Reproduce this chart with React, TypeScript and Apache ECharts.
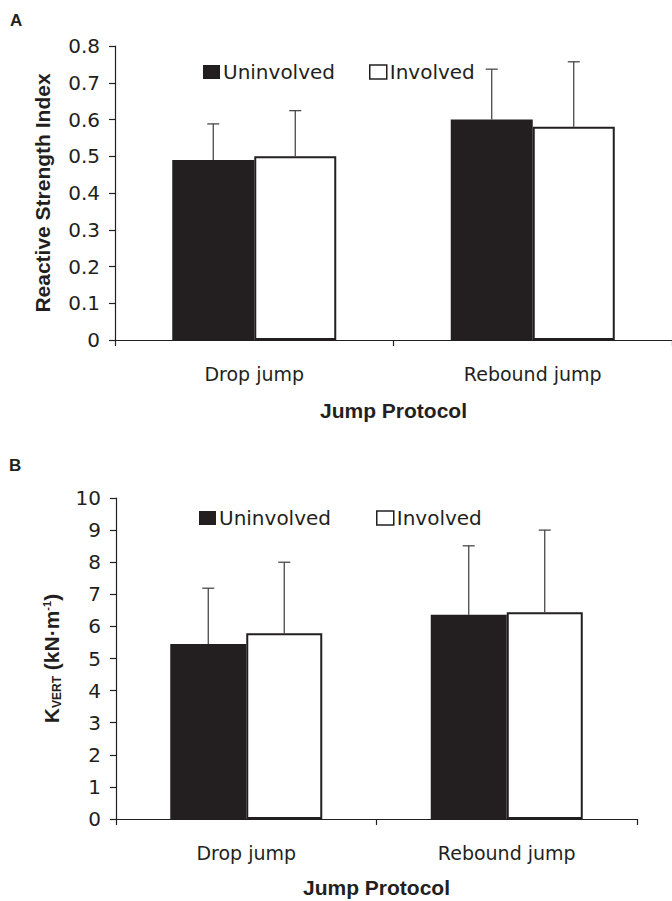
import React, { useEffect, useRef } from "react";
import * as echarts from "echarts";

// ---- Data ----
const categories = ["Drop jump", "Rebound jump"];
const seriesNames = ["Uninvolved", "Involved"];

// Panel A: Reactive Strength Index (mean, SD)
const rsiUninvolved = [0.49, 0.6];
const rsiInvolved = [0.5, 0.58];
const rsiUninvolvedSD = [0.098, 0.137];
const rsiInvolvedSD = [0.124, 0.177];

// Panel B: K_VERT (kN·m-1) (mean, SD)
const kUninvolved = [5.45, 6.36];
const kInvolved = [5.79, 6.44];
const kUninvolvedSD = [1.74, 2.15];
const kInvolvedSD = [2.21, 2.56];

const yTicksA = [0, 0.8, 0.1];
const yTicksB = [0, 10, 1];

const FONT = '"DejaVu Sans", Verdana, sans-serif';
const BOLD = '"Liberation Sans", Arial, Helvetica, sans-serif';
const INK = "#231f20";

function errSeries(name: string, xi: number, means: number[], sds: number[], side: number, barW: number) {
  return {
    type: "custom",
    name,
    xAxisIndex: xi,
    yAxisIndex: xi,
    silent: true,
    z: 5,
    data: means.map((m, i) => [i, m, sds[i]]),
    renderItem: (params: any, api: any) => {
      const idx = api.value(0);
      const m = api.value(1);
      const sd = api.value(2);
      const base = api.coord([idx, m]);
      const top = api.coord([idx, m + sd]);
      const cx = base[0] + side * barW / 2;
      const cap = 6;
      return {
        type: "group",
        children: [
          { type: "line", shape: { x1: cx, y1: base[1], x2: cx, y2: top[1] }, style: { stroke: "#3a3a3a", lineWidth: 1.2 } },
          { type: "line", shape: { x1: cx - cap, y1: top[1], x2: cx + cap, y2: top[1] }, style: { stroke: "#3a3a3a", lineWidth: 1.2 } },
        ],
      };
    },
  };
}

export default function App() {
  const ref = useRef<HTMLDivElement>(null);
  useEffect(() => {
    if (!ref.current) return;
    const chart = echarts.init(ref.current, null, { renderer: "svg" });
    const barWA = 82;
    const barWB = 76;
    const axisCommon = {
      axisLine: { show: true, lineStyle: { color: INK, width: 1.2 } },
      axisTick: { show: true, length: 6, lineStyle: { color: INK, width: 1.2 } },
      splitLine: { show: false },
    };
    const xAxis = (gi: number, labelMargin: number, nameGap: number) => ({
      type: "category",
      gridIndex: gi,
      data: categories,
      boundaryGap: true,
      ...axisCommon,
      axisTick: { show: true, length: 6, alignWithLabel: false, lineStyle: { color: INK, width: 1.2 } },
      axisLabel: { margin: labelMargin, fontFamily: FONT, fontSize: 19, color: INK },
      name: "Jump Protocol",
      nameLocation: "middle",
      nameGap,
      nameTextStyle: { fontFamily: BOLD, fontSize: 21, fontWeight: "bold", color: INK },
    });
    const legend = (left: number, top: number, gap: number) => ({
      left,
      top,
      padding: 0,
      orient: "horizontal",
      itemWidth: 17,
      itemHeight: 14,
      itemGap: gap,
      selectedMode: false,
      textStyle: { fontFamily: FONT, fontSize: 20, color: INK, padding: [0, 0, 0, -2] },
      data: [
        { name: seriesNames[0], icon: "rect", itemStyle: { color: INK, borderWidth: 0 } },
        { name: seriesNames[1], icon: "rect", itemStyle: { color: "#fff", borderColor: INK, borderWidth: 1.5 } },
      ],
    });
    const option: any = {
      animation: false,
      backgroundColor: "#fff",
      textStyle: { fontFamily: FONT },
      grid: [
        { left: 115, top: 46, width: 568, height: 294 },
        { left: 116, top: 498, width: 521, height: 321 },
      ],
      legend: [legend(203, 62, 34), legend(199, 508, 45)],
      xAxis: [xAxis(0, 24, 60), xAxis(1, 24, 58)],
      yAxis: [
        {
          type: "value",
          gridIndex: 0,
          min: yTicksA[0],
          max: yTicksA[1],
          interval: yTicksA[2],
          ...axisCommon,
          axisLabel: { margin: 15, fontFamily: FONT, fontSize: 20, color: INK, formatter: (v: number) => (v === 0 ? "0" : v.toFixed(1)) },
          name: "Reactive Strength Index",
          nameLocation: "middle",
          nameRotate: 90,
          nameGap: 62,
          nameTextStyle: { fontFamily: BOLD, fontSize: 21, fontWeight: "bold", color: INK },
        },
        {
          type: "value",
          gridIndex: 1,
          min: yTicksB[0],
          max: yTicksB[1],
          interval: yTicksB[2],
          ...axisCommon,
          axisLabel: { margin: 15, fontFamily: FONT, fontSize: 20, color: INK },
          name: "{k|K}{sub|VERT}{k| (kN·m}{sup|-1}{k|)}",
          nameLocation: "middle",
          nameRotate: 90,
          nameGap: 54,
          nameTextStyle: {
            fontFamily: BOLD,
            fontSize: 21,
            fontWeight: "bold",
            color: INK,
            rich: {
              k: { fontFamily: BOLD, fontSize: 21, fontWeight: "bold", color: INK, lineHeight: 24, verticalAlign: "bottom" },
              sub: { fontFamily: BOLD, fontSize: 12, fontWeight: "bold", color: INK, lineHeight: 24, verticalAlign: "bottom", padding: [0, 0, -1, 0] },
              sup: { fontFamily: BOLD, fontSize: 11, fontWeight: "bold", color: INK, lineHeight: 24, verticalAlign: "top", padding: [3, 0, 0, 0] },
            },
          },
        },
      ],
      series: [
        { type: "bar", name: seriesNames[0], xAxisIndex: 0, yAxisIndex: 0, data: rsiUninvolved, barWidth: barWA, barGap: "0%", itemStyle: { color: INK } },
        { type: "bar", name: seriesNames[1], xAxisIndex: 0, yAxisIndex: 0, data: rsiInvolved, barWidth: barWA, barGap: "0%", itemStyle: { color: "#fff", borderColor: INK, borderWidth: 2 } },
        errSeries("Uninvolved SD A", 0, rsiUninvolved, rsiUninvolvedSD, -1, barWA),
        errSeries("Involved SD A", 0, rsiInvolved, rsiInvolvedSD, 1, barWA),
        { type: "bar", name: seriesNames[0], xAxisIndex: 1, yAxisIndex: 1, data: kUninvolved, barWidth: barWB, barGap: "0%", itemStyle: { color: INK } },
        { type: "bar", name: seriesNames[1], xAxisIndex: 1, yAxisIndex: 1, data: kInvolved, barWidth: barWB, barGap: "0%", itemStyle: { color: "#fff", borderColor: INK, borderWidth: 2 } },
        errSeries("Uninvolved SD B", 1, kUninvolved, kUninvolvedSD, -1, barWB),
        errSeries("Involved SD B", 1, kInvolved, kInvolvedSD, 1, barWB),
      ],
      graphic: [
        { type: "text", left: 10, top: 12, style: { text: "A", fontFamily: BOLD, fontSize: 17, fontWeight: "bold", fill: INK } },
        { type: "text", left: 9, top: 457, style: { text: "B", fontFamily: BOLD, fontSize: 17, fontWeight: "bold", fill: INK } },
      ],
    };
    chart.setOption(option);
    return () => chart.dispose();
  }, []);
  return (
    <div
      ref={ref}
      style={{ position: "fixed", left: 0, top: 0, width: 672, height: 901, background: "#fff" }}
    />
  );
}
